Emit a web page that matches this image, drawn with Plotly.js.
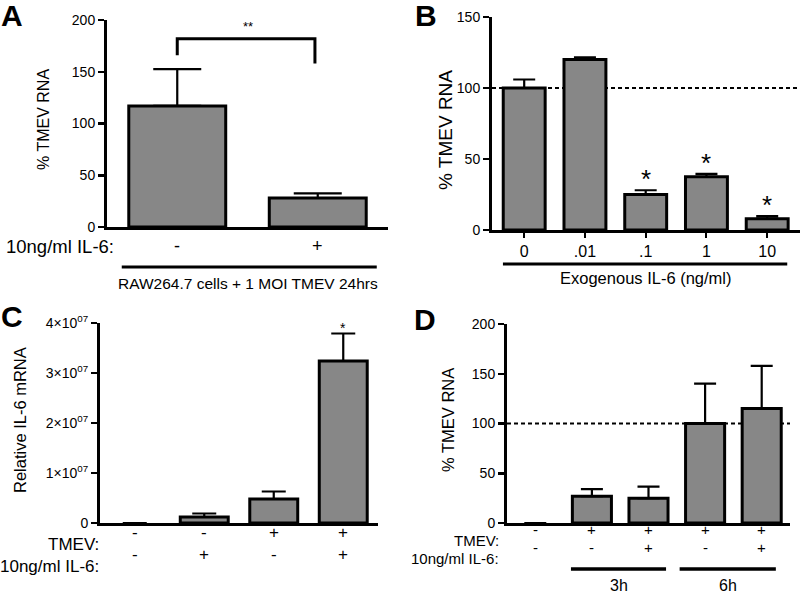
<!DOCTYPE html>
<html>
<head>
<meta charset="utf-8">
<script src="https://cdn.plot.ly/plotly-3.0.1.min.js"></script>
<style>html,body{margin:0;padding:0;background:#fff;}#chart{width:800px;height:593px;}</style>
</head>
<body>
<div id="chart"></div>
<script>
// ---------------- DATA ----------------
// Panel A
const aCats = ['IL-6 -', 'IL-6 +'];
const aIL6 = ['-', '+'];
const aMean = [117, 28];
const aErr = [35.5, 4.5];
const aBracket = {left: 166, top: 182, right: 158, label: '**'};
// Panel B
const bCats = ['0', '.01', '.1', '1', '10'];
const bMean = [100, 120, 25, 37.5, 8];
const bErr = [6, 1.5, 3, 2, 1.8];
const bSig = ['', '', '*', '*', '*'];
// Panel C
const cCats = ['c1', 'c2', 'c3', 'c4'];
const cTMEV = ['-', '-', '+', '+'];
const cIL6 = ['-', '+', '-', '+'];
const cMean = [0, 1.2e6, 4.8e6, 3.24e7];
const cErr = [null, 0.7e6, 1.5e6, 0.55e7];
const cSig = ['', '', '', '*'];
const cTickVals = [0, 1e7, 2e7, 3e7, 4e7];
const cTickText = ['0', '1\u00d710<sup>07</sup>', '2\u00d710<sup>07</sup>', '3\u00d710<sup>07</sup>', '4\u00d710<sup>07</sup>'];
// Panel D
const dCats = ['d1', 'd2', 'd3', 'd4', 'd5'];
const dTMEV = ['-', '+', '+', '+', '+'];
const dIL6 = ['-', '-', '+', '-', '+'];
const dMean = [0, 27, 25, 100, 115];
const dErr = [null, 7, 11.5, 40, 43];
const dGroups = [{label: '3h', x0: 0.63, x1: 2.31}, {label: '6h', x0: 2.55, x1: 4.25}];
const refLine = 100;

// ---------------- HELPERS ----------------
const W = 800, H = 593;
const px = v => v / W;
const py = v => 1 - v / H;
const FONT = 'Liberation Sans, Arial, sans-serif';
const BAR_FILL = '#878787';

function barTrace(cats, vals, errs, xa, ya, capW) {
  return {
    type: 'bar', x: cats, y: vals, xaxis: xa, yaxis: ya,
    width: 0.69,
    marker: {color: vals.map(v => v > 0 ? BAR_FILL : 'rgba(0,0,0,0)'),
             line: {color: vals.map(v => v > 0 ? '#000' : 'rgba(0,0,0,0)'), width: vals.map(v => v > 0 ? 3 : 0)}},
    error_y: {type: 'data', symmetric: false, array: errs, arrayminus: errs.map(() => 0),
              color: '#000', thickness: 2.2, width: capW},
    hoverinfo: 'none', showlegend: false, cliponaxis: false
  };
}

const data = [
  barTrace(aCats, aMean, aErr, 'x', 'y', 24),
  barTrace(bCats, bMean, bErr, 'x2', 'y2', 11),
  barTrace(cCats, cMean, cErr, 'x3', 'y3', 12),
  barTrace(dCats, dMean, dErr, 'x4', 'y4', 11)
];

function yAxis(domain, range, dtick, anchor, extra) {
  return Object.assign({
    domain: domain, range: range, dtick: dtick, anchor: anchor,
    showgrid: false, zeroline: false, showline: true, linecolor: '#000', linewidth: 3,
    ticks: 'outside', ticklen: 6, tickwidth: 2.5, tickcolor: '#000',
    tickfont: {family: FONT, size: 14, color: '#000'}, fixedrange: true
  }, extra || {});
}
function xAxis(domain, range, anchor, extra) {
  return Object.assign({
    domain: domain, range: range, anchor: anchor, type: 'category',
    showgrid: false, zeroline: false, showline: true, linecolor: '#000', linewidth: 3,
    ticks: '', showticklabels: false, fixedrange: true
  }, extra || {});
}

const layout = {
  width: W, height: H,
  margin: {l: 0, r: 0, t: 0, b: 0},
  paper_bgcolor: '#fff', plot_bgcolor: 'rgba(0,0,0,0)',
  font: {family: FONT, color: '#000'},
  bargap: 0.31,
  xaxis: xAxis([px(107), px(388)], [-0.5, 1.5], 'y'),
  yaxis: yAxis([py(227), py(20)], [0, 200], 50, 'x'),
  xaxis2: xAxis([px(492), px(800)], [-0.53, 4.54], 'y2',
    {showticklabels: true, ticks: 'outside', ticklen: 5, tickwidth: 2, tickcolor: '#000',
     tickfont: {family: FONT, size: 16, color: '#000'}}),
  yaxis2: yAxis([py(230), py(17)], [0, 150], 50, 'x2'),
  xaxis3: xAxis([px(100), px(378)], [-0.5, 3.5], 'y3'),
  yaxis3: yAxis([py(523), py(323)], [0, 4e7], null, 'x3',
    {tickmode: 'array', tickvals: cTickVals, ticktext: cTickText}),
  xaxis4: xAxis([px(507), px(790)], [-0.5, 4.5], 'y4'),
  yaxis4: yAxis([py(523), py(324)], [0, 200], 50, 'x4'),
  shapes: [],
  annotations: []
};

const ann = layout.annotations, shp = layout.shapes;
function text(t, x, y, size, opts) {
  ann.push(Object.assign({text: t, x: x, y: y, xref: 'paper', yref: 'paper', showarrow: false,
    font: {family: FONT, size: size, color: '#000'}, xanchor: 'center', yanchor: 'middle'}, opts || {}));
}

// Panel letters
text('<b>A</b>', px(12), py(15), 30);
text('<b>B</b>', px(426), py(15), 30);
text('<b>C</b>', px(12), py(317), 30);
text('<b>D</b>', px(425), py(319), 30);

// Y axis titles
text('% TMEV RNA', px(43), py(120), 16, {textangle: -90});
text('% TMEV RNA', px(445), py(130), 19, {textangle: -90});
text('Relative IL-6 mRNA', px(20), py(420), 16.5, {textangle: -90});
text('% TMEV RNA', px(448), py(420), 16.5, {textangle: -90});

// Dashed reference lines
shp.push({type: 'line', xref: 'x2 domain', yref: 'y2', x0: 0, x1: 1, y0: refLine, y1: refLine,
  layer: 'below', line: {color: '#000', width: 2, dash: '4px,3px'}});
shp.push({type: 'line', xref: 'x4 domain', yref: 'y4', x0: 0, x1: 1, y0: refLine, y1: refLine,
  layer: 'below', line: {color: '#000', width: 2, dash: '4px,3px'}});

// Panel A: bracket, row labels, underline
shp.push({type: 'path', xref: 'x', yref: 'y',
  path: `M 0,${aBracket.left} L 0,${aBracket.top} L 0.98,${aBracket.top} L 0.98,${aBracket.right}`,
  line: {color: '#000', width: 3}});
ann.push({text: aBracket.label, x: 0.5, y: aBracket.top + 3, xref: 'x', yref: 'y', showarrow: false,
  yanchor: 'bottom', font: {family: FONT, size: 13, color: '#000'}});
text('10ng/ml IL-6:', px(116), py(246), 18.5, {xanchor: 'right'});
aIL6.forEach((s, i) => ann.push({text: s, x: i, y: py(246), xref: 'x', yref: 'paper', showarrow: false,
  font: {family: FONT, size: 18, color: '#000'}}));
shp.push({type: 'line', xref: 'x', yref: 'paper', x0: -0.395, x1: 1.42, y0: py(267), y1: py(267),
  line: {color: '#000', width: 3}});
ann.push({text: 'RAW264.7 cells + 1 MOI TMEV 24hrs', x: 0.5, y: py(283), xref: 'x', yref: 'paper',
  showarrow: false, font: {family: FONT, size: 15.5, color: '#000'}});

// Panel B: asterisks, underline, title
bSig.forEach((s, i) => { if (s) ann.push({text: s, x: i, y: bMean[i] + bErr[i], xref: 'x2', yref: 'y2',
  showarrow: false, yanchor: 'bottom', yshift: -6, font: {family: FONT, size: 26, color: '#000'}}); });
shp.push({type: 'line', xref: 'x2', yref: 'paper', x0: -0.35, x1: 4.33, y0: py(264), y1: py(264),
  line: {color: '#000', width: 3}});
ann.push({text: 'Exogenous IL-6 (ng/ml)', x: 2, y: py(278), xref: 'x2', yref: 'paper', showarrow: false,
  font: {family: FONT, size: 16.5, color: '#000'}});

// Panel C: asterisk and row labels
cSig.forEach((s, i) => { if (s) ann.push({text: s, x: i, y: cMean[i] + cErr[i], xref: 'x3', yref: 'y3',
  showarrow: false, yanchor: 'bottom', yshift: -4, font: {family: FONT, size: 14, color: '#000'}}); });
text('TMEV:', px(101), py(544), 17, {xanchor: 'right'});
text('10ng/ml IL-6:', px(101), py(566), 17, {xanchor: 'right'});
cTMEV.forEach((s, i) => ann.push({text: s, x: i, y: py(544), xref: 'x3', yref: 'paper', showarrow: false,
  font: {family: FONT, size: 17, color: '#000'}}));
cIL6.forEach((s, i) => ann.push({text: s, x: i, y: py(566), xref: 'x3', yref: 'paper', showarrow: false,
  font: {family: FONT, size: 17, color: '#000'}}));

// Panel D: row labels, group underlines
text('TMEV:', px(501), py(540), 15, {xanchor: 'right'});
text('10ng/ml IL-6:', px(501), py(558), 15, {xanchor: 'right'});
dTMEV.forEach((s, i) => ann.push({text: s, x: i, y: py(540), xref: 'x4', yref: 'paper', showarrow: false,
  font: {family: FONT, size: 15, color: '#000'}}));
dIL6.forEach((s, i) => ann.push({text: s, x: i, y: py(558), xref: 'x4', yref: 'paper', showarrow: false,
  font: {family: FONT, size: 15, color: '#000'}}));
dGroups.forEach(g => {
  shp.push({type: 'line', xref: 'x4', yref: 'paper', x0: g.x0, x1: g.x1, y0: py(569), y1: py(569),
    line: {color: '#000', width: 3.5}});
  ann.push({text: g.label, x: (g.x0 + g.x1) / 2, y: py(593), xref: 'x4', yref: 'paper', showarrow: false,
    yanchor: 'bottom', yshift: -3, font: {family: FONT, size: 16, color: '#000'}});
});

Plotly.newPlot('chart', data, layout, {staticPlot: true, displayModeBar: false});
</script>
</body>
</html>
